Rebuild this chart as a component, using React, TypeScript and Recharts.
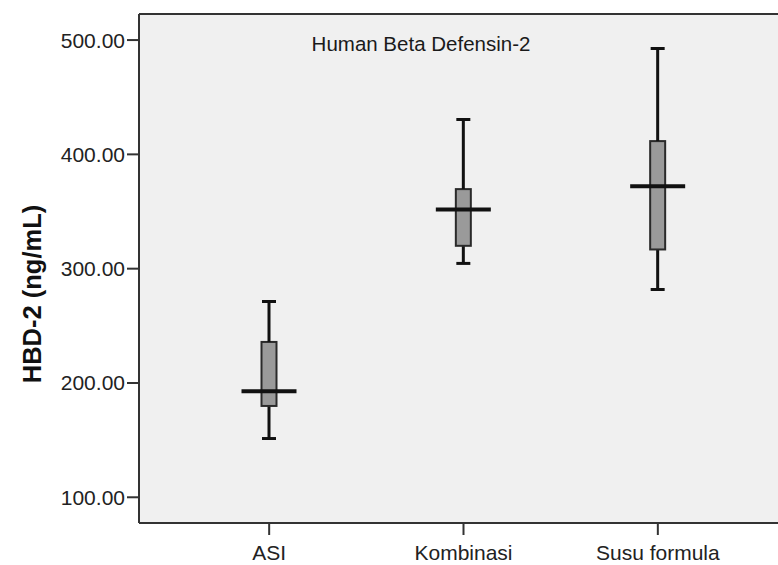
import { ComposedChart, Bar, XAxis, YAxis, CartesianGrid, ReferenceLine } from "recharts";

const groups = ["ASI", "Kombinasi", "Susu formula"];
const mins = [151.4, 304.6, 281.8];
const q1s = [179.9, 320.0, 316.8];
const medians = [192.8, 351.8, 372.0];
const q3s = [235.9, 369.6, 411.6];
const maxs = [271.3, 430.6, 492.7];

const yTicks = [100, 200, 300, 400, 500];
const Y_MIN = 77.5;
const Y_MAX = 522.8;

const data = groups.map((name, i) => ({
  name,
  base: mins[i],
  lowWhisker: q1s[i] - mins[i],
  lowBox: medians[i] - q1s[i],
  highBox: q3s[i] - medians[i],
  highWhisker: maxs[i] - q3s[i],
}));

const INK = "#111";
const FONT = "'Liberation Sans', Arial, sans-serif";

function LowWhisker(p: any) {
  const cx = p.x + p.width / 2;
  const bottom = p.y + p.height;
  return (
    <g>
      <line x1={cx} y1={p.y} x2={cx} y2={bottom} stroke={INK} strokeWidth={3} />
      <line x1={cx - 7} y1={bottom} x2={cx + 7} y2={bottom} stroke={INK} strokeWidth={3} />
    </g>
  );
}

function HighWhisker(p: any) {
  const cx = p.x + p.width / 2;
  return (
    <g>
      <line x1={cx} y1={p.y} x2={cx} y2={p.y + p.height} stroke={INK} strokeWidth={3} />
      <line x1={cx - 7} y1={p.y} x2={cx + 7} y2={p.y} stroke={INK} strokeWidth={3} />
    </g>
  );
}

function LowBox(p: any) {
  const cx = p.x + p.width / 2;
  return <rect x={cx - 7.5} y={p.y} width={15} height={p.height} fill="#9a9a9a" stroke="#2a2a2a" strokeWidth={2} />;
}

function HighBox(p: any) {
  const cx = p.x + p.width / 2;
  const med = p.y + p.height;
  return (
    <g>
      <rect x={cx - 7.5} y={p.y} width={15} height={p.height} fill="#9a9a9a" stroke="#2a2a2a" strokeWidth={2} />
      <line x1={cx - 27.5} y1={med} x2={cx + 27.5} y2={med} stroke={INK} strokeWidth={4} />
    </g>
  );
}

export default function App() {
  return (
    <div style={{ position: "fixed", left: 0, top: 0, width: 778, height: 565, overflow: "hidden", background: "#fff" }}>
      <ComposedChart
        width={800}
        height={565}
        data={data}
        margin={{ top: 14, right: 12, left: 1, bottom: 0 }}
        barSize={60}
      >
        <CartesianGrid fill="#f0f0f0" horizontal={false} vertical={false} />
        <XAxis
          dataKey="name"
          height={42}
          padding={{ left: 33, right: 33 }}
          axisLine={{ stroke: "#333", strokeWidth: 2 }}
          tickLine={{ stroke: "#333", strokeWidth: 2 }}
          tickSize={12}
          tickMargin={10}
          tick={{ fill: "#222", fontSize: 21, fontFamily: FONT }}
        />
        <YAxis
          type="number"
          domain={[Y_MIN, Y_MAX]}
          allowDataOverflow
          ticks={yTicks}
          width={138}
          axisLine={{ stroke: "#333", strokeWidth: 2 }}
          tickLine={{ stroke: "#333", strokeWidth: 2 }}
          tickSize={12}
          tickMargin={2}
          tickFormatter={(v: number) => v.toFixed(2)}
          tick={{ fill: "#222", fontSize: 21, fontFamily: FONT }}
        />
        <ReferenceLine y={Y_MAX} stroke="#333" strokeWidth={2} ifOverflow="visible" />
        <Bar dataKey="base" stackId="b" fill="transparent" isAnimationActive={false} />
        <Bar dataKey="lowWhisker" stackId="b" shape={LowWhisker} isAnimationActive={false} />
        <Bar dataKey="lowBox" stackId="b" shape={LowBox} isAnimationActive={false} />
        <Bar dataKey="highBox" stackId="b" shape={HighBox} isAnimationActive={false} />
        <Bar dataKey="highWhisker" stackId="b" shape={HighWhisker} isAnimationActive={false} />
      </ComposedChart>
      <svg width={778} height={565} style={{ position: "absolute", left: 0, top: 0, pointerEvents: "none" }}>
        <text x={421} y={51} textAnchor="middle" fontSize={20.5} fontFamily={FONT} fill="#1a1a1a">
          Human Beta Defensin-2
        </text>
        <text
          x={41}
          y={294}
          transform="rotate(-90 41 294)"
          textAnchor="middle"
          fontSize={25.5}
          fontWeight="bold"
          fontFamily={FONT}
          fill="#111"
        >
          HBD-2 (ng/mL)
        </text>
      </svg>
    </div>
  );
}
